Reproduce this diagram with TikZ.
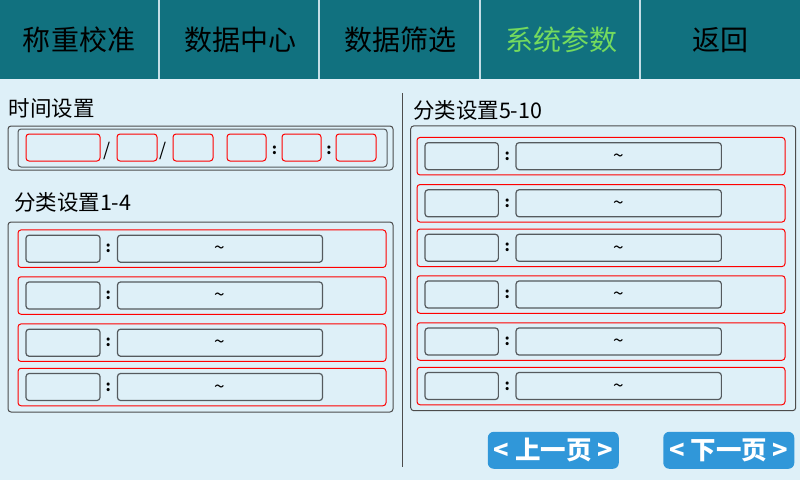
\documentclass[tikz,border=0pt]{standalone}
\usepackage{fontspec}
\setmainfont{Noto Sans CJK SC}
\usetikzlibrary{positioning}
\definecolor{screen}{HTML}{DEF0F8}
\definecolor{tabbar}{HTML}{11717F}
\definecolor{tabline}{HTML}{C4DEE6}
\definecolor{active}{HTML}{74DA5E}
\definecolor{btnblue}{HTML}{3097D9}
\definecolor{fieldline}{HTML}{555A5E}
\tikzset{every node/.style={inner sep=0pt, outer sep=0pt},
	tab/.style={font=\fontsize{28}{28}\selectfont, text=black},
	caption/.style={anchor=west, font=\fontsize{21.5}{22}\selectfont},
	group/.style={draw=black!70, line width=1pt, rounded corners=3pt},
	slot/.style={draw=red, line width=1pt, rounded corners=3pt, minimum height=27pt},
	catrow/.style={draw=red, line width=1pt, rounded corners=3pt, minimum width=368pt, minimum height=37.5pt},
	field/.style={draw=fieldline, line width=1.2pt, rounded corners=3pt, minimum height=27pt, font=\fontsize{19}{19}\selectfont},
	rangefield/.style={field, text height=12.5pt, text depth=0pt},
	sep/.style={font=\bfseries\fontsize{15}{15}\selectfont},
	pagebtn/.style={fill=btnblue, rounded corners=6pt, text=white, minimum width=131pt, minimum height=37pt, font=\bfseries\fontsize{25.5}{25.5}\selectfont}}
\begin{document}
\begin{tikzpicture}[x=1pt, y=-1pt]
	\fill[screen] (0,0) rectangle (800,480);
	\useasboundingbox (0,0) rectangle (800,480);
	% menu bar
	\fill[tabbar] (0,0) rectangle (800,79);
	\foreach \x in {159,319,480,640} \draw[tabline, line width=1.5pt] (\x,0) -- (\x,79);
	\node[tab] (Calib) at (79,40) {称重校准};
	\node[tab] (Data) at (240,40) {数据中心};
	\node[tab] (Filter) at (400,40) {数据筛选};
	\node[tab, text=active] (Params) at (561,40) {系统参数};
	\node[tab] (Back) at (720,40) {返回};
	% time
	\node[caption] (Time) at (9,108) {时间设置};
	\node[group, minimum width=385pt, minimum height=44pt] (Time Box) at (200.5,148) {};
	\node[draw=fieldline, line width=1pt, rounded corners=3pt, minimum width=369pt, minimum height=38pt] (Time Inner) at (202.5,148) {};
	\node[slot, minimum width=74pt] (Year) at (63,147.5) {};
	\node[slot, minimum width=40pt] (Month) at (137,147.5) {};
	\node[slot, minimum width=40pt] (Day) at (193,147.5) {};
	\node[slot, minimum width=39pt] (Hour) at (246.5,147.5) {};
	\node[slot, minimum width=39pt] (Minute) at (301.5,147.5) {};
	\node[slot, minimum width=40pt] (Second) at (356,147.5) {};
	\node[font=\fontsize{18}{18}\selectfont] (Slash1) at (107.5,151) {/};
	\node[font=\fontsize{18}{18}\selectfont] (Slash2) at (163.5,151) {/};
	\node[sep] (Colon1) at (274.5,150) {:};
	\node[sep] (Colon2) at (329,150) {:};
	% classes 1-4
	\node[caption] (Left) at (14,202) {分类设置1-4};
	\node[group, minimum width=385pt, minimum height=190pt] (Left Box) at (200.5,317) {};
	\foreach \y [count=\i] in {248.7,295.5,342.7,387} {
		\node[catrow] (Row\i) at (202,\y) {};
		\node[field, minimum width=74pt] (Key\i) at (63,\y) {};
		\node[sep] (Colon L\i) at (108.3,\y) {:};
		\node[rangefield, minimum width=205pt] (Range\i) at (220,\y) {\textasciitilde};
	}
	% classes 5-10
	\draw[black!70, line width=1pt] (402.7,93) -- (402.7,467);
	\node[caption] (Right) at (413,110) {分类设置5-10};
	\node[group, minimum width=385pt, minimum height=284.7pt] (Right Box) at (603.2,268.3) {};
	\foreach \y [count=\i from 5] in {156.2,203.3,247.8,294.5,341.5,386} {
		\node[catrow] (Row\i) at (601,\y) {};
		\node[field, minimum width=73.3pt] (Key\i) at (461.7,\y) {};
		\node[sep] (Colon R\i) at (507.3,\y) {:};
		\node[rangefield, minimum width=205.3pt] (Range\i) at (618.7,\y) {\textasciitilde};
	}
	% paging
	\node[pagebtn] (Prev) at (553.3,450.3) {< 上一页 >};
	\node[pagebtn] (Next) at (728.8,450.3) {< 下一页 >};
\end{tikzpicture}
\end{document}
